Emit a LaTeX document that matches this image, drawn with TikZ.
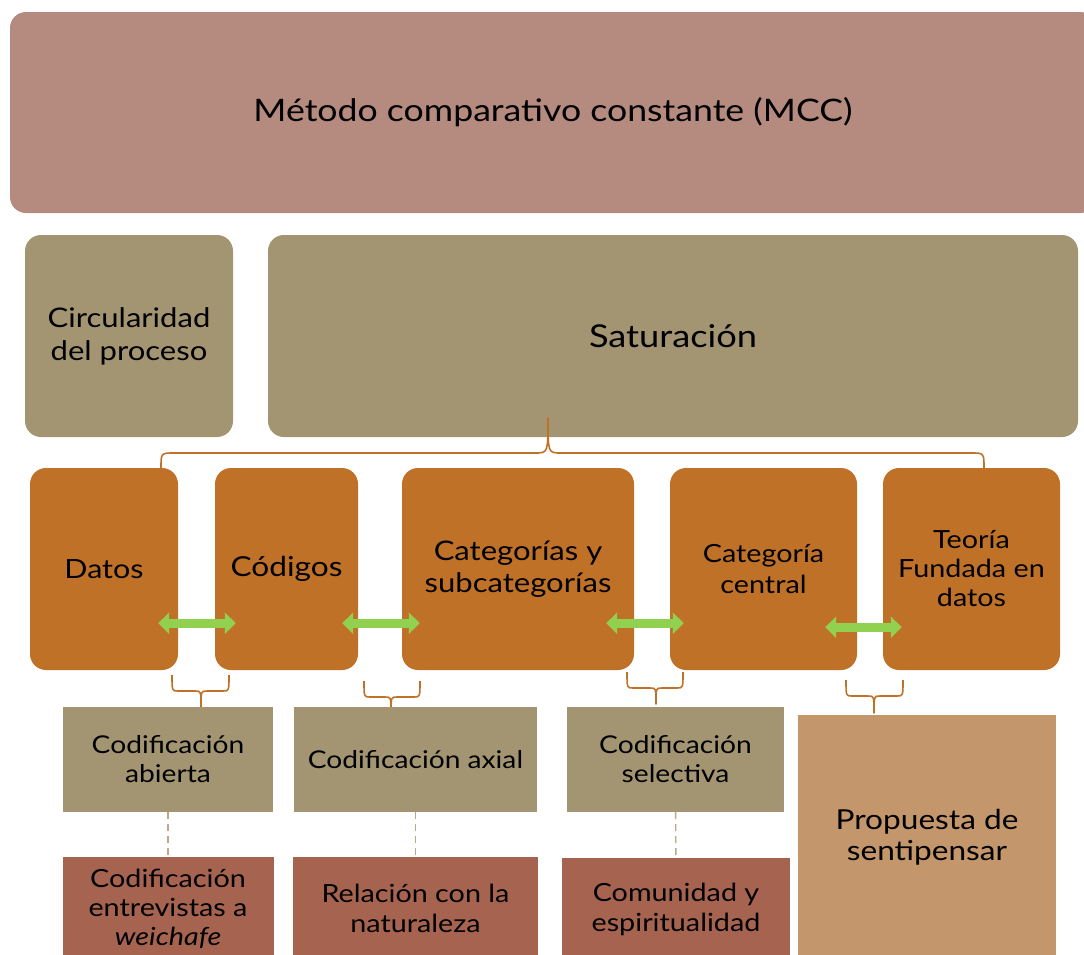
\documentclass[tikz,border=0pt]{standalone}
\usepackage{fontspec}
\setmainfont{Lato}[FakeStretch=1.15]
\usetikzlibrary{arrows.meta,positioning,calc}
\definecolor{cMCC}{HTML}{B58A7F}
\definecolor{cTan}{HTML}{A39472}
\definecolor{cOr}{HTML}{C07128}
\definecolor{cBr}{HTML}{A66450}
\definecolor{cSand}{HTML}{C3976B}
\definecolor{cGreen}{HTML}{92D050}
\definecolor{cDash}{HTML}{B5A98E}
\tikzset{tile/.style={inner sep=0pt,align=center,text=black},
  rtile/.style={tile,rounded corners=16pt},
  brace/.style={draw=cOr,line width=1.6pt,line join=round},
  swap/.style={cGreen,line width=9pt,{Triangle[width=21pt,length=11pt]}-{Triangle[width=21pt,length=11pt]}},
  link/.style={cDash,line width=1.4pt,dash pattern=on 7pt off 5pt}}
\newcommand{\fs}[2]{\fontsize{#1}{#2}\selectfont}
% curly bracket: [r] left x, tip x, right x, end y, bar y, tip y
\newcommand{\curly}[7][6]{%
  \draw[brace] (#2,#5) .. controls (#2,#6) .. ({#2+#1},#6) -- ({#3-#1},#6) .. controls (#3,#6) .. (#3,#7)
    .. controls (#3,#6) .. ({#3+#1},#6) -- ({#4-#1},#6) .. controls (#4,#6) .. (#4,#5);}

\begin{document}
\begin{tikzpicture}[x=1pt,y=-1pt]
  \useasboundingbox (0,0) rectangle (1084,954);
  % top band
  \node[rtile,fill=cMCC,minimum width=1086pt,minimum height=201pt,font=\fs{31}{38}] (mcc) at (553,112.5) {Método comparativo constante (MCC)};
  \node[rtile,fill=cTan,minimum width=208pt,minimum height=202pt,font=\fs{27}{33}] (circ) at (129,336) {Circularidad\\del proceso};
  \node[rtile,fill=cTan,minimum width=810pt,minimum height=202pt,font=\fs{31.5}{38}] (sat) at (673,336) {Saturación};
  % orange row
  \node[rtile,fill=cOr,minimum width=148pt,minimum height=202pt,font=\fs{26.5}{32}] (datos) at (104,569) {Datos};
  \node[rtile,fill=cOr,minimum width=143pt,minimum height=202pt,font=\fs{27.5}{32}] (cod) at (286.5,569) {Códigos};
  \node[rtile,fill=cOr,minimum width=232pt,minimum height=202pt,font=\fs{27}{32}] (cat) at (518,569) {Categorías y\\subcategorías};
  \node[rtile,fill=cOr,minimum width=187pt,minimum height=202pt,font=\fs{25}{31}] (cen) at (763.5,569) {Categoría\\central};
  \node[rtile,fill=cOr,minimum width=177pt,minimum height=202pt,font=\fs{25}{29}] (teo) at (971.5,569) {Teoría\\Fundada en\\datos};
  \curly[13]{161}{548}{984}{468}{453}{418}
  % green swaps
  \draw[swap] ($(datos.south east)+(-20,-47)$) -- ($(cod.south west)+(21,-47)$);
  \draw[swap] ($(cod.south east)+(-16,-47)$) -- ($(cat.south west)+(18,-47)$);
  \draw[swap] ($(cat.south east)+(-28,-47)$) -- ($(cen.south west)+(14,-47)$);
  \draw[swap] ($(cen.south east)+(-32,-43)$) -- ($(teo.south west)+(19,-43)$);
  % coding row
  \curly{172}{201}{229}{675}{691}{707}
  \curly{364}{391}{420}{681}{697}{713}
  \curly{627}{656}{683}{672}{688}{704}
  \curly{846}{874}{903}{680}{696}{713}
  \node[tile,fill=cTan,minimum width=210pt,minimum height=105pt,font=\fs{24.5}{29}] (abi) at (168,759.5) {Codificación\\abierta};
  \node[tile,fill=cTan,minimum width=243pt,minimum height=105pt,font=\fs{24.5}{29}] (axi) at (415.5,759.5) {Codificación axial};
  \node[tile,fill=cTan,minimum width=217pt,minimum height=105pt,font=\fs{24.5}{29}] (sel) at (675.5,759.5) {Codificación\\selectiva};
  \node[tile,fill=cSand,minimum width=258pt,minimum height=245pt,font=\fs{27.5}{31}] (prop) at (927,837.5) {Propuesta de\\sentipensar};
  % bottom row
  \node[tile,fill=cBr,minimum width=211pt,minimum height=103pt,font=\fs{25}{29}] (wei) at (168,908.5) {Codificación\\entrevistas a\\\textit{weichafe}};
  \node[tile,fill=cBr,minimum width=245pt,minimum height=103pt,font=\fs{25}{30}] (nat) at (415.5,908.5) {Relación con la\\naturaleza};
  \node[tile,fill=cBr,minimum width=228pt,minimum height=102pt,font=\fs{25}{30}] (esp) at (676,909) {Comunidad y\\espiritualidad};
  \draw[link] (abi) -- (wei);
  \draw[link] (axi) -- (nat);
  \draw[link] (sel) -- (esp);
\end{tikzpicture}
\end{document}
